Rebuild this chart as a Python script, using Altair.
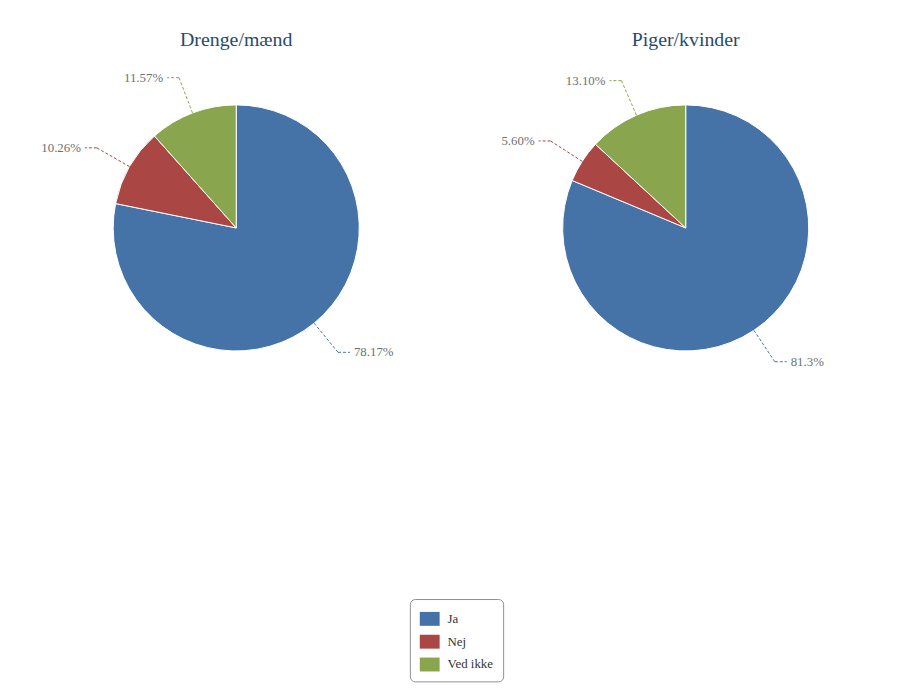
import altair as alt
import pandas as pd

# ---- data ----
groups = ["Drenge/mænd", "Piger/kvinder"]
categories = ["Ja", "Nej", "Ved ikke"]
values_boys = [78.17, 10.26, 11.57]
values_girls = [81.3, 5.60, 13.10]
labels_boys = ["78.17%", "10.26%", "11.57%"]
labels_girls = ["81.3%", "5.60%", "13.10%"]
colors = ["#4572A7", "#AA4643", "#89A54E"]

rows = []
for g, vals, labs in [(groups[0], values_boys, labels_boys), (groups[1], values_girls, labels_girls)]:
    for i, (c, v, l) in enumerate(zip(categories, vals, labs)):
        rows.append({"group": g, "cat": c, "value": v, "label": l, "idx": i})
df = pd.DataFrame(rows)

# ---- layout constants ----
W, H = 440, 342
CX, CY = W / 2, H / 2
R = 124
ELBOW = 38
TAIL = 12
GAP = 4
FONT = "Liberation Serif"

color_enc = alt.Color(
    "cat:N",
    scale=alt.Scale(domain=categories, range=colors),
    sort=categories,
    legend=alt.Legend(
        title=None,
        orient="none",
        legendX=395,
        legendY=545,
        symbolType="M-1,-0.7H1V0.7H-1Z",
        symbolSize=400,
        symbolStrokeWidth=0,
        labelFont=FONT,
        labelFontSize=13,
        labelColor="#333333",
        labelOffset=8,
        labelExpr="datum.label + '\u00a0\u00a0\u00a0\u00a0\u00a0\u00a0\u00a0'",
        rowPadding=6,
        padding=10,
        strokeColor="#909090",
        fillColor="white",
        cornerRadius=5,
    ),
)


def panel(g):
    base = (
        alt.Chart(df)
        .transform_filter(alt.datum.group == g)
        .transform_joinaggregate(total="sum(value)")
        .transform_window(cum="sum(value)", sort=[alt.SortField("idx")], frame=[None, 0])
        .transform_calculate(mid="(datum.cum - datum.value/2)/datum.total*2*PI")
        .transform_calculate(
            s="sin(datum.mid)",
            c="cos(datum.mid)",
        )
        .transform_calculate(
            ex=f"{CX} + {R}*datum.s",
            ey=f"{CY} - {R}*datum.c",
            bx=f"{CX} + {R + ELBOW}*datum.s",
            by=f"{CY} - {R + ELBOW}*datum.c",
            side="datum.s >= 0 ? 1 : -1",
        )
        .transform_calculate(
            tx=f"datum.bx + datum.side*{TAIL}",
            lx=f"datum.bx + datum.side*{TAIL + GAP}",
        )
    )
    xs = alt.Scale(domain=[0, W], nice=False, zero=False)
    ys = alt.Scale(domain=[H, 0], nice=False, zero=False)

    arc = base.mark_arc(outerRadius=R, stroke="white", strokeWidth=1).encode(
        theta=alt.Theta("value:Q", stack=True),
        order=alt.Order("idx:O"),
        color=color_enc,
    )
    rule1 = base.mark_rule(strokeWidth=1, strokeDash=[3, 2]).encode(
        x=alt.X("ex:Q", scale=xs, axis=None),
        y=alt.Y("ey:Q", scale=ys, axis=None),
        x2="bx:Q",
        y2="by:Q",
        color=color_enc,
    )
    rule2 = base.mark_rule(strokeWidth=1, strokeDash=[3, 2]).encode(
        x=alt.X("bx:Q", scale=xs, axis=None),
        y=alt.Y("by:Q", scale=ys, axis=None),
        x2="tx:Q",
        y2="by:Q",
        color=color_enc,
    )
    txt_r = base.transform_filter(alt.datum.side > 0).mark_text(
        align="left", baseline="middle", font=FONT, fontSize=13, color="#707070"
    ).encode(
        x=alt.X("lx:Q", scale=xs, axis=None),
        y=alt.Y("by:Q", scale=ys, axis=None),
        text="label:N",
    )
    txt_l = base.transform_filter(alt.datum.side < 0).mark_text(
        align="right", baseline="middle", font=FONT, fontSize=13, color="#707070"
    ).encode(
        x=alt.X("lx:Q", scale=xs, axis=None),
        y=alt.Y("by:Q", scale=ys, axis=None),
        text="label:N",
    )
    return alt.layer(arc, rule1, rule2, txt_r, txt_l).properties(
        width=W,
        height=H,
        title=alt.TitleParams(
            text=g,
            font=FONT,
            fontSize=20,
            fontWeight="normal",
            color="#274b6d",
            anchor="middle",
            offset=8,
        ),
    )


chart = (
    alt.hconcat(panel(groups[0]), panel(groups[1]), spacing=13)
    .resolve_scale(color="shared", theta="independent")
    .properties(padding={"left": 10, "top": 20, "right": 0, "bottom": 0})
    .configure_view(stroke=None)
)

chart.save("out.html", embed_options={"renderer": "svg", "actions": False})
